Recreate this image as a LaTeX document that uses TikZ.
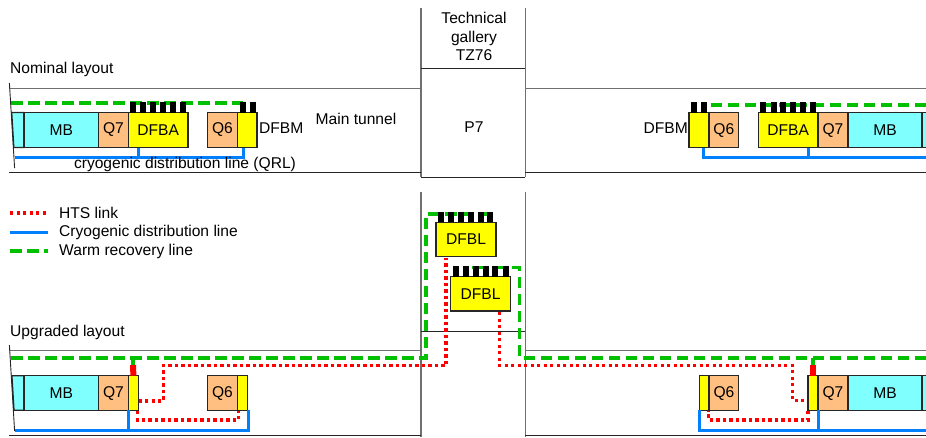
\documentclass[tikz,border=0pt]{standalone}
\usepackage{fontspec}
\setmainfont{Liberation Sans}
\usetikzlibrary{positioning}
\definecolor{MagnetCyan}{HTML}{80FFFF}
\definecolor{QuadOrange}{HTML}{FFBF80}
\definecolor{FeedYellow}{HTML}{FFFF00}
\definecolor{HtsRed}{HTML}{FF0000}
\definecolor{CryoBlue}{HTML}{0080FF}
\definecolor{WarmGreen}{HTML}{00C000}
\definecolor{WallGray}{HTML}{707070}
\tikzset{
  unit/.style={draw=black!85, line width=1.3pt, inner sep=0pt, outer sep=0pt, minimum height=35pt, font=\fontsize{15.6}{17}\selectfont},
  mbbox/.style={unit, fill=MagnetCyan},
  quadbox/.style={unit, fill=QuadOrange},
  feedbox/.style={unit, fill=FeedYellow},
  pinbox/.style={fill=black, inner sep=0pt, outer sep=0pt, minimum width=6pt, minimum height=10.5pt, anchor=south},
  label/.style={font=\fontsize{15.6}{17}\selectfont, inner sep=0pt, align=center},
  wall/.style={draw=WallGray, line width=1.2pt},
  thinwall/.style={draw=black!85, line width=0.9pt},
  htsline/.style={draw=HtsRed, line width=3.4pt, dash pattern=on 3.4pt off 3.1pt},
  cryoline/.style={draw=CryoBlue, line width=3pt},
  warmline/.style={draw=WarmGreen, line width=3.2pt, dash pattern=on 11.5pt off 5.5pt},
  stubgreen/.style={draw=WarmGreen, line width=3.5pt},
  stubred/.style={draw=HtsRed, line width=6pt}
}
\begin{document}
\begin{tikzpicture}[x=1pt, y=-1pt]
\useasboundingbox (0,0) rectangle (926,437);
% gallery and tunnel walls
\coordinate (galTL) at (421,8);
\coordinate (galTR) at (525.3,8);
\coordinate (galBL) at (421,177.3);
\coordinate (galBR) at (525.3,177.3);
\coordinate (galMidL) at (421,68.3);
\coordinate (galMidR) at (525.3,68.3);
\draw[wall] (galTL) -- (galBL);
\draw[wall] (galTR) -- (galBR);
\draw[thinwall] (galMidL) -- (galMidR);
\draw[thinwall] (galBL) -- (galBR);
\coordinate (lowTL) at (421,192);
\coordinate (lowTR) at (525.3,192);
\coordinate (lowBL) at (421,437);
\coordinate (lowBR) at (525.3,437);
\coordinate (lowMidL) at (421,331);
\coordinate (lowMidR) at (525.3,331);
\draw[wall] (lowTL) -- (lowBL);
\draw[wall] (lowTR) -- (lowBR);
\draw[thinwall] (lowMidL) -- (lowMidR);
\coordinate (nomTopL) at (9,88.3);
\coordinate (nomTopR) at (926,88.3);
\coordinate (nomBotL) at (9,172.7);
\coordinate (nomBotR) at (926,172.7);
\draw[wall] (nomTopL) -- (galMidL |- nomTopL);
\draw[wall] (galMidR |- nomTopR) -- (nomTopR);
\draw[thinwall] (nomBotL) -- (galMidL |- nomBotL);
\draw[thinwall] (galMidR |- nomBotR) -- (nomBotR);
\coordinate (upgTopL) at (9,350.7);
\coordinate (upgTopR) at (926,350.7);
\coordinate (upgBotL) at (9,435);
\coordinate (upgBotR) at (926,435);
\draw[wall] (upgTopL) -- (galMidL |- upgTopL);
\draw[wall] (galMidR |- upgTopR) -- (upgTopR);
\draw[thinwall] (upgBotL) -- (galMidL |- upgBotL);
\draw[thinwall] (galMidR |- upgBotR) -- (upgBotR);
% nominal layout, left
\draw[warmline] (11,103) -- (243,103);
\draw[unit, fill=MagnetCyan] (11.7,112.5) -- (24,112.5) -- (24,147.5) -- (13.8,147.5) -- cycle;
\node[mbbox, anchor=north west, minimum width=74.7pt] (mbA) at (24,112.5) {MB};
\node[quadbox, right=0pt of mbA, minimum width=29.6pt] (qsevenA) {Q7};
\node[feedbox, right=0pt of qsevenA, minimum width=59.7pt] (dfbaA) {DFBA\hspace{8pt}};
\node[quadbox, anchor=north west, minimum width=30.4pt] (qsixA) at (207.3,112.5) {Q6};
\node[feedbox, right=0pt of qsixA, minimum width=19.3pt] (dfbmA) {};
\node[label, right=2pt of dfbmA, yshift=2pt] (dfbmAtext) {DFBM};
\foreach \x in {133,143,153,163,173,183,243,253}
  \node[pinbox] (pinA\x) at (\x,112.5) {};
\coordinate (qrlA) at (15,157.3);
\draw[cryoline] (138,147.5) -- (138,157.3);
\draw[cryoline] (qrlA) -- (243,157.3) -- (243,147.5);
\node[label] (qrlAtext) at (185,164.5) {cryogenic distribution line (QRL)};
% nominal layout, right
\draw[warmline] (926,105) -- (704,105);
\node[feedbox, anchor=north west, minimum width=20pt] (dfmbB) at (689,112.7) {};
\node[quadbox, right=0pt of dfmbB, minimum width=29.7pt] (qsixB) {Q6};
\node[feedbox, anchor=north west, minimum width=59.7pt] (dfbaB) at (758.3,112.7) {DFBA\hspace{8pt}};
\node[quadbox, right=0pt of dfbaB, minimum width=30pt] (qsevenB) {Q7};
\node[mbbox, right=0pt of qsevenB, minimum width=74pt] (mbB) {MB};
\node[mbbox, right=0pt of mbB, minimum width=6pt] (endB) {};
\node[label, left=1pt of dfmbB, yshift=2pt] (dfbmBtext) {DFBM};
\foreach \x in {694,704,763,774,783,793,803,813}
  \node[pinbox] (pinB\x) at (\x,112.7) {};
\coordinate (qrlB) at (926,157.7);
\draw[cryoline] (808,147.7) -- (808,157.7);
\draw[cryoline] (qrlB) -- (703.3,157.7) -- (703.3,147.7);
% upgraded layout, left
\draw[unit, fill=MagnetCyan] (11.9,375.7) -- (24,375.7) -- (24,410.3) -- (14,410.3) -- cycle;
\node[mbbox, anchor=north west, minimum width=74.7pt] (mbC) at (24,375.7) {MB};
\node[quadbox, right=0pt of mbC, minimum width=29.6pt] (qsevenC) {Q7};
\node[feedbox, right=0pt of qsevenC, minimum width=10.2pt] (dfbC) {};
\node[quadbox, anchor=north west, minimum width=30.4pt] (qsixC) at (207.3,375.7) {Q6};
\node[feedbox, right=0pt of qsixC, minimum width=9.8pt] (dfcC) {};
\draw[cryoline] (128.3,410.3) -- (128.3,430);
\draw[cryoline] (15,430) -- (248,430) -- (248,410.3);
% upgraded layout, right
\node[feedbox, anchor=north west, minimum width=9.8pt] (dfcD) at (699.3,375.7) {};
\node[quadbox, right=0pt of dfcD, minimum width=29.7pt] (qsixD) {Q6};
\node[feedbox, anchor=north west, minimum width=10pt] (dfbD) at (808,375.7) {};
\node[quadbox, right=0pt of dfbD, minimum width=30pt] (qsevenD) {Q7};
\node[mbbox, right=0pt of qsevenD, minimum width=74pt] (mbD) {MB};
\node[mbbox, right=0pt of mbD, minimum width=6pt] (endD) {};
\draw[cryoline] (818,410.3) -- (818,430);
\draw[cryoline] (926,430) -- (699,430) -- (699,410.3);
% DFBL in the gallery
\node[feedbox, anchor=north west, minimum width=60pt, minimum height=34.4pt] (dfblA) at (436,222.3) {DFBL};
\node[feedbox, anchor=north west, minimum width=60.4pt, minimum height=34.4pt] (dfblB) at (450.3,276.7) {DFBL};
\coordinate (warmUL) at (426,214);
\coordinate (warmUR) at (519.8,267.7);
\draw[warmline] (11,358) -- (426,358) -- (warmUL) -- (487,214);
\draw[warmline] (926,358) -- (519.8,358) -- (warmUR) -- (472,267.7);
\foreach \x in {441,451,461,471,481,490}
  \node[pinbox] (pinL\x) at (\x,222.3) {};
\foreach \x in {456,466,476,486,495,506}
  \node[pinbox] (pinM\x) at (\x,276.7) {};
% HTS links
\draw[htsline] (138.5,401) -- (163.3,401) -- (163.3,365.7) -- (446,365.7) -- (446,257.5);
\draw[htsline] (499.7,312) -- (499.7,365.7) -- (792.7,365.7) -- (792.7,400.7) -- (807.5,400.7);
\draw[htsline] (137.7,411) -- (137.7,420) -- (238.3,420) -- (238.3,411);
\draw[htsline] (808,411) -- (808,420) -- (708.7,420) -- (708.7,411);
% feeds to the warm line
\draw[stubgreen] (133,358) -- (133,365);
\draw[stubred] (133,365) -- (dfbC.north);
\draw[stubgreen] (813,358) -- (813,365);
\draw[stubred] (813,365) -- (dfbD.north);
% break lines
\draw[draw=black!85, line width=0.9pt] (9.4,83) -- (14.6,168);
\draw[draw=black!85, line width=0.9pt] (9.4,345) -- (14.6,431);
% labels
\node[label, anchor=west] (nominal) at (10,69) {Nominal layout};
\node[label, anchor=west] (upgraded) at (10,332) {Upgraded layout};
\node[label] (tunnel) at (356,119) {Main tunnel};
\node[label] (pseven) at (474,127) {P7};
\node[label, font=\fontsize{15.6}{18.5}\selectfont] (gallery) at (474,36.5) {Technical\\gallery\\TZ76};
% legend
\node[label, anchor=west, inner xsep=0pt] (htsText) at (59,213) {HTS link};
\node[label, anchor=west] (cryoText) at (59,232) {Cryogenic distribution line};
\node[label, anchor=west] (warmText) at (59,251) {Warm recovery line};
\coordinate (htsKey) at (10,213);
\coordinate (cryoKey) at (10,232);
\coordinate (warmKey) at (10,251);
\draw[htsline] (htsKey) -- ([xshift=-11pt]htsText.west);
\draw[cryoline] (cryoKey) -- ([xshift=-11pt]cryoText.west);
\draw[warmline] (warmKey) -- ([xshift=-11pt]warmText.west);
\end{tikzpicture}
\end{document}
